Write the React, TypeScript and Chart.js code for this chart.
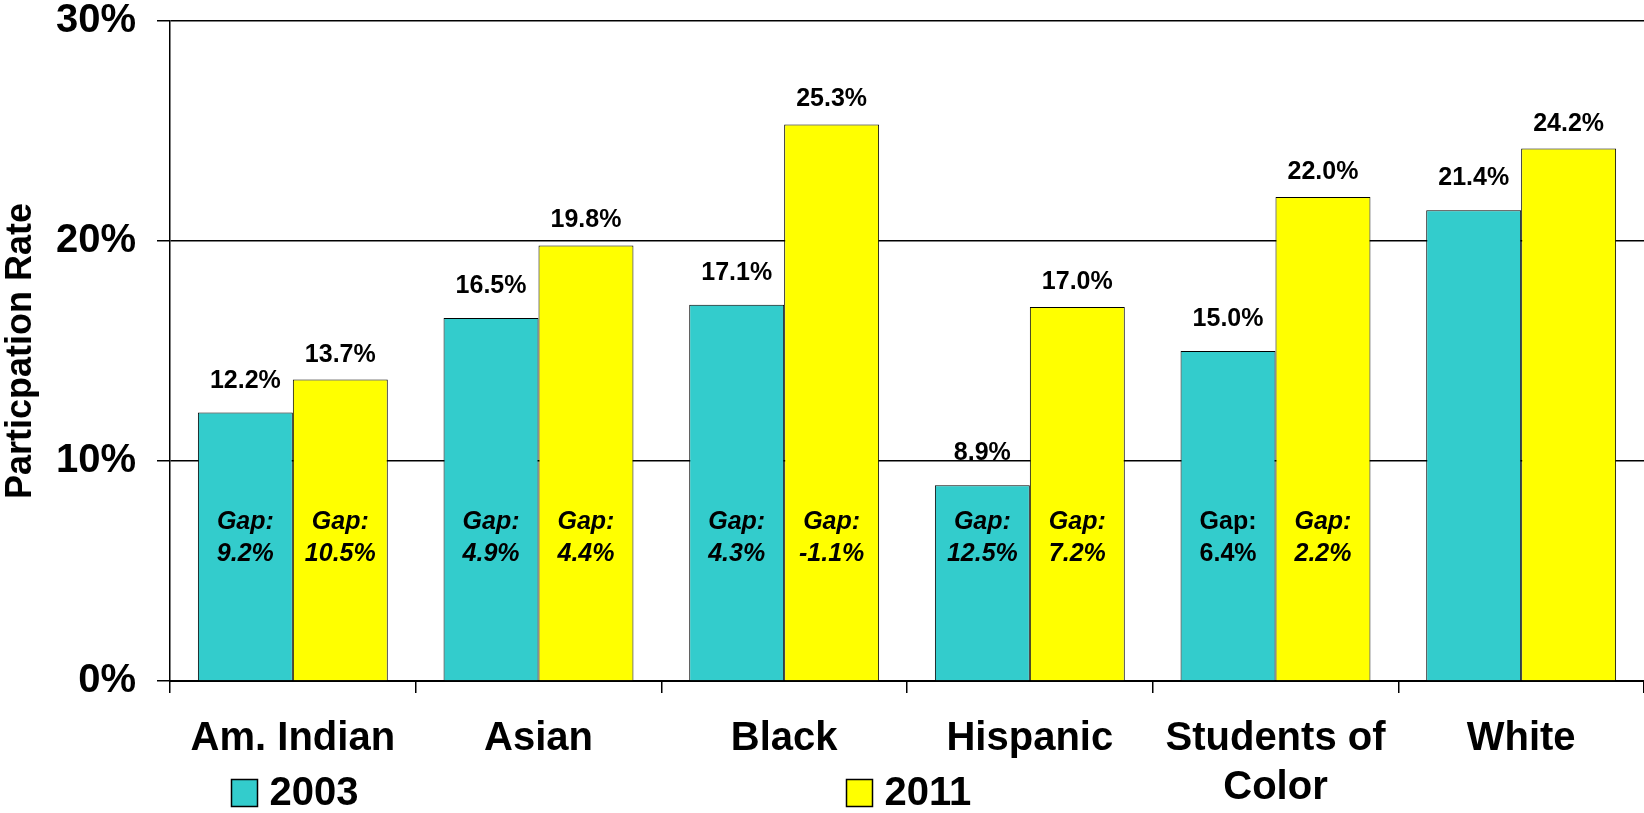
import React, { useEffect, useRef } from 'react';
import { Chart, registerables } from 'chart.js';

Chart.register(...registerables);

const FONT = "Arial, 'Liberation Sans', sans-serif";

const categories: (string | string[])[] = ['Am. Indian', 'Asian', 'Black', 'Hispanic', ['Students of', 'Color'], 'White'];
const seriesNames = ['2003', '2011'];
const values2003 = [12.2, 16.5, 17.1, 8.9, 15.0, 21.4];
const values2011 = [13.7, 19.8, 25.3, 17.0, 22.0, 24.2];
const gap2003: (number | null)[] = [9.2, 4.9, 4.3, 12.5, 6.4, null];
const gap2011: (number | null)[] = [10.5, 4.4, -1.1, 7.2, 2.2, null];
const gap2003Italic = [true, true, true, true, false, false];
const gap2011Italic = [true, true, true, true, true, false];
const yTickValues = [0, 10, 20, 30];

const COLOR_2003 = '#33CCCC';
const COLOR_2011 = '#FFFF00';

const annotationPlugin = {
  id: 'annotations',
  afterDatasetsDraw(chart: any) {
    const { ctx } = chart;
    const yScale = chart.scales.y;
    const gaps = [gap2003, gap2011];
    const italics = [gap2003Italic, gap2011Italic];
    const offsets = [25, 18];
    ctx.save();
    ctx.fillStyle = '#000';
    ctx.textAlign = 'center';
    chart.data.datasets.forEach((ds: any, di: number) => {
      const meta = chart.getDatasetMeta(di);
      meta.data.forEach((bar: any, i: number) => {
        const v = ds.data[i] as number;
        ctx.font = `bold 25px ${FONT}`;
        ctx.textBaseline = 'alphabetic';
        ctx.fillText(v.toFixed(1) + '%', bar.x, bar.y - offsets[di]);
        const g = gaps[di][i];
        if (g !== null && g !== undefined) {
          const cy = yScale.getPixelForValue(6.5);
          ctx.font = `${italics[di][i] ? 'italic ' : ''}bold 25px ${FONT}`;
          ctx.textBaseline = 'middle';
          ctx.fillText('Gap:', bar.x, cy - 16);
          ctx.fillText(g.toFixed(1) + '%', bar.x, cy + 16);
        }
      });
    });
    ctx.restore();
  },
};

const legendPlugin = {
  id: 'customLegend',
  afterDraw(chart: any) {
    const { ctx, width } = chart;
    const positions = [0.1405, 0.5146];
    const top = 779;
    const boxW = 26;
    const boxH = 27;
    ctx.save();
    chart.data.datasets.forEach((ds: any, di: number) => {
      const x = Math.round(width * positions[di]) + 0.5;
      ctx.fillStyle = ds.backgroundColor;
      ctx.fillRect(x, top + 0.5, boxW, boxH);
      ctx.strokeStyle = '#000';
      ctx.lineWidth = 1.5;
      ctx.strokeRect(x, top + 0.5, boxW, boxH);
      ctx.fillStyle = '#000';
      ctx.font = `bold 40px ${FONT}`;
      ctx.textAlign = 'left';
      ctx.textBaseline = 'middle';
      ctx.fillText(ds.label, x + boxW + 12, top + boxH / 2 + 1);
    });
    ctx.restore();
  },
};

export default function App() {
  const canvasRef = useRef<HTMLCanvasElement | null>(null);

  useEffect(() => {
    if (!canvasRef.current) return;
    const chart = new Chart(canvasRef.current, {
      type: 'bar',
      data: {
        labels: categories as any,
        datasets: [
          {
            label: seriesNames[0],
            data: values2003,
            backgroundColor: COLOR_2003,
            borderColor: '#000',
            borderWidth: 1,
          },
          {
            label: seriesNames[1],
            data: values2011,
            backgroundColor: COLOR_2011,
            borderColor: '#000',
            borderWidth: 1,
          },
        ],
      },
      options: {
        animation: false,
        responsive: true,
        maintainAspectRatio: false,
        layout: { padding: { top: 0, right: 0, bottom: 0, left: 0 } },
        datasets: {
          bar: { categoryPercentage: 0.773, barPercentage: 1 },
        },
        plugins: {
          legend: { display: false },
          tooltip: { enabled: false },
          title: { display: false },
        },
        scales: {
          x: {
            type: 'category',
            offset: true,
            grid: {
              offset: true,
              drawOnChartArea: false,
              drawTicks: true,
              tickLength: 12,
              color: '#000',
              lineWidth: 1.5,
            },
            border: { display: true, color: '#000', width: 2 },
            ticks: {
              color: '#000',
              padding: 21,
              maxRotation: 0,
              autoSkip: false,
              font: { family: FONT, size: 40, weight: 'bold', lineHeight: 1.225 },
            },
            afterFit(scale: any) {
              scale.height = 132;
            },
          },
          y: {
            min: 0,
            max: 30,
            afterBuildTicks(scale: any) {
              scale.ticks = yTickValues.map((v) => ({ value: v }));
            },
            grid: {
              color: '#000',
              lineWidth: 1.5,
              tickLength: 13,
              drawTicks: true,
            },
            border: { display: true, color: '#000', width: 1.5 },
            ticks: {
              color: '#000',
              padding: 21,
              font: { family: FONT, size: 40, weight: 'bold', lineHeight: 1.1 },
              callback: (v: any) => `${v}%`,
            },
            title: {
              display: true,
              text: 'Particpation Rate',
              color: '#000',
              padding: { top: 0, bottom: 0 },
              font: { family: FONT, size: 36, weight: 'bold', lineHeight: 1.15 },
            },
            afterFit(scale: any) {
              scale.width = 170;
              scale.paddingTop = 21;
              scale.paddingBottom = 0;
            },
          },
        },
      },
      plugins: [annotationPlugin, legendPlugin],
    });
    return () => chart.destroy();
  }, []);

  return (
    <div style={{ position: 'fixed', left: 0, top: 0, width: 1644, height: 813, background: '#fff' }}>
      <canvas ref={canvasRef} />
    </div>
  );
}
